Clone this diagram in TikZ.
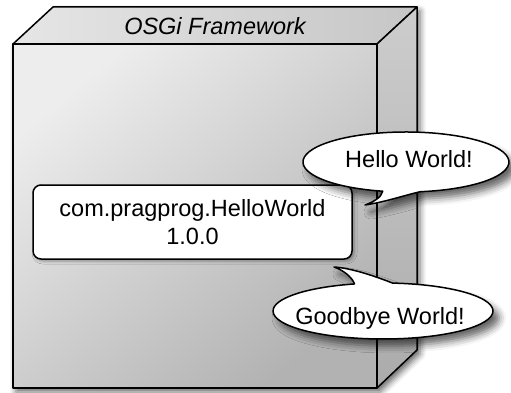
\documentclass[tikz,border=0pt]{standalone}
\usepackage{fontspec}
\setmainfont{Liberation Sans}
\usetikzlibrary{shadows.blur}
\newcommand\lblfont{\fontsize{23.5}{28}\selectfont}
\definecolor{frontA}{HTML}{EDEDED}
\definecolor{frontB}{HTML}{B2B2B2}
\definecolor{topA}{HTML}{E6E6E6}
\definecolor{topB}{HTML}{C6C6C6}
\definecolor{sideA}{HTML}{CDCDCD}
\definecolor{sideB}{HTML}{ABABAB}
\tikzset{
  edge/.style={line width=1.5pt, draw=black, line join=round},
  boxshadow/.style={blur shadow={shadow xshift=3pt, shadow yshift=-4pt, shadow blur radius=6pt, shadow opacity=60}},
  bubble/.style={edge, fill=white, blur shadow={shadow xshift=6pt, shadow yshift=-7pt, shadow blur radius=7pt, shadow opacity=60}},
  lbl/.style={font=\lblfont, inner sep=0pt},
  title/.style={font=\lblfont\itshape, inner sep=0pt}
}
\begin{document}
\begin{tikzpicture}[x=1pt,y=-1pt]
\useasboundingbox (0,0) rectangle (511,393);
% framework box
\path[boxshadow, fill=sideB] (13,44) -- (53,7) -- (417,7) -- (417,350) -- (377,388) -- (13,388) -- cycle;
\path[edge, left color=topA, right color=topB] (13,44) -- (53,7) -- (417,7) -- (377,44) -- cycle;
\path[edge, top color=sideA, bottom color=sideB] (377,44) -- (417,7) -- (417,350) -- (377,388) -- cycle;
\path[edge, top color=frontA, bottom color=frontB, shading angle=40] (13,44) rectangle (377,388);
\node[title, anchor=base] (fw) at (215,35) {OSGi Framework};
% bundle
\node[edge, fill=white, rounded corners=8pt, minimum width=319pt, minimum height=74pt,
      align=center, lbl, blur shadow={shadow xshift=2pt, shadow yshift=-2pt, shadow blur radius=3pt, shadow opacity=35}]
      (bundle) at (192.5,222) {com.pragprog.HelloWorld\\1.0.0};
% hello bubble
\path[bubble] (420.3,191.7) arc[start angle=82, end angle=-257, x radius=103, y radius=30]
   .. controls (381,198) and (373,202) .. (365,205)
   .. controls (385,202) and (402,196) .. cycle;
\node[lbl, anchor=base] (hello) at (409,167) {Hello World!};
% goodbye bubble
\path[bubble] (392.6,283.1) arc[start angle=-85, end angle=255, x radius=110, y radius=28]
   .. controls (352,277) and (343,270) .. (334,267)
   .. controls (350,268) and (372,275) .. cycle;
\node[lbl, anchor=base] (bye) at (380,324) {Goodbye World!};
\end{tikzpicture}
\end{document}
